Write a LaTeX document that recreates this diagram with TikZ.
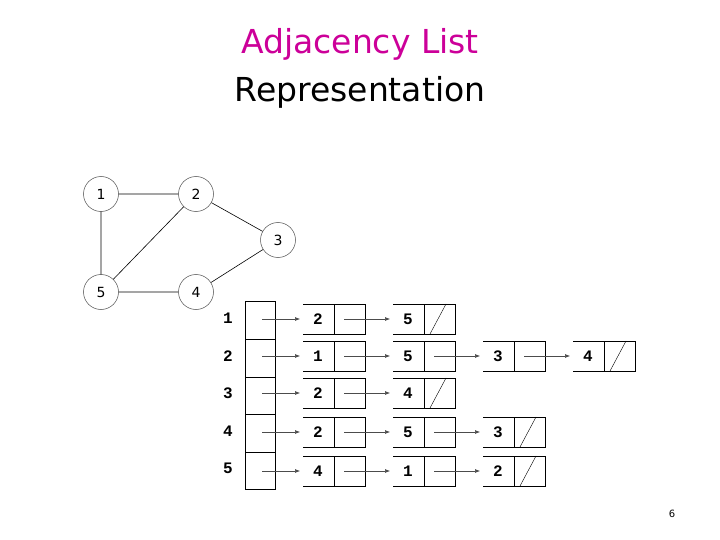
\documentclass[tikz,border=0pt]{standalone}
\usepackage{fontspec}
\setmainfont{DejaVu Sans}
\newfontfamily\monof{Liberation Mono}
\usetikzlibrary{arrows.meta}
\definecolor{ttl}{RGB}{204,0,153}
\begin{document}
\begin{tikzpicture}[x=1pt,y=-1pt,
  vert/.style={circle,draw,black!70,line width=0.5pt,minimum size=35pt,inner sep=0pt,text=black,font=\fontsize{14}{14}\selectfont},
  edge/.style={draw=black,line width=0.6pt},
  lbl/.style={font=\monof\bfseries\fontsize{16}{16}\selectfont},
  ptr/.style={-{Latex[length=5pt,width=4pt]},line width=0.6pt,black!70}]
\useasboundingbox (0,0) rectangle (720,540);
\node[font=\fontsize{33}{33}\selectfont,text=ttl] (t1) at (360,44) {Adjacency List};
\node[font=\fontsize{33}{33}\selectfont] (t2) at (360,92) {Representation};
\node[vert] (v1) at (101,194) {1};
\node[vert] (v2) at (196,194) {2};
\node[vert] (v3) at (278,240) {3};
\node[vert] (v4) at (196,292) {4};
\node[vert] (v5) at (101,292) {5};
\draw[edge] (v1)--(v2) (v1)--(v5) (v2)--(v5) (v2)--(v3) (v3)--(v4) (v4)--(v5);
% array
\foreach \i/\t/\b in {1/301/339,2/339/377,3/377/414,4/414/452,5/452/489}{
  \draw[line width=0.7pt] (245,\t) rectangle (275,\b);
  \node[lbl] (a\i) at (228,{(\t+\b)/2-2}) {\i};
}
\foreach \r/\y/\list in {1/319/{2/0,5/1},2/356/{1/0,5/0,3/0,4/1},3/393/{2/0,4/1},4/432/{2/0,5/0,3/1},5/471/{4/0,1/0,2/1}}{
  \coordinate (p\r0) at (262,\y);
  \foreach \v/\n [count=\c] in \list {
    \pgfmathsetmacro\xl{303+90*(\c-1)}
    \pgfmathtruncatemacro\pc{\c-1}
    \draw[line width=0.7pt] ({\xl},\y-15) -- ({\xl+62},\y-15) -- ({\xl+62},\y+15) -- ({\xl},\y+15)
          ({\xl+31},\y-15) -- ({\xl+31},\y+15);
    \node[lbl] (n\r\c) at ({\xl+15},\y) {\v};
    \coordinate (e\r\c) at ({\xl-3},\y);
    \coordinate (p\r\c) at ({\xl+41},\y);
    \draw[ptr] (p\r\pc) -- (e\r\c);
    \ifnum\n=1 \draw[thin] ({\xl+37},\y+15) -- ({\xl+53},\y-15); \fi
  }
}
\node[font=\fontsize{10}{10}\selectfont] (pg) at (672,514) {6};
\end{tikzpicture}
\end{document}
